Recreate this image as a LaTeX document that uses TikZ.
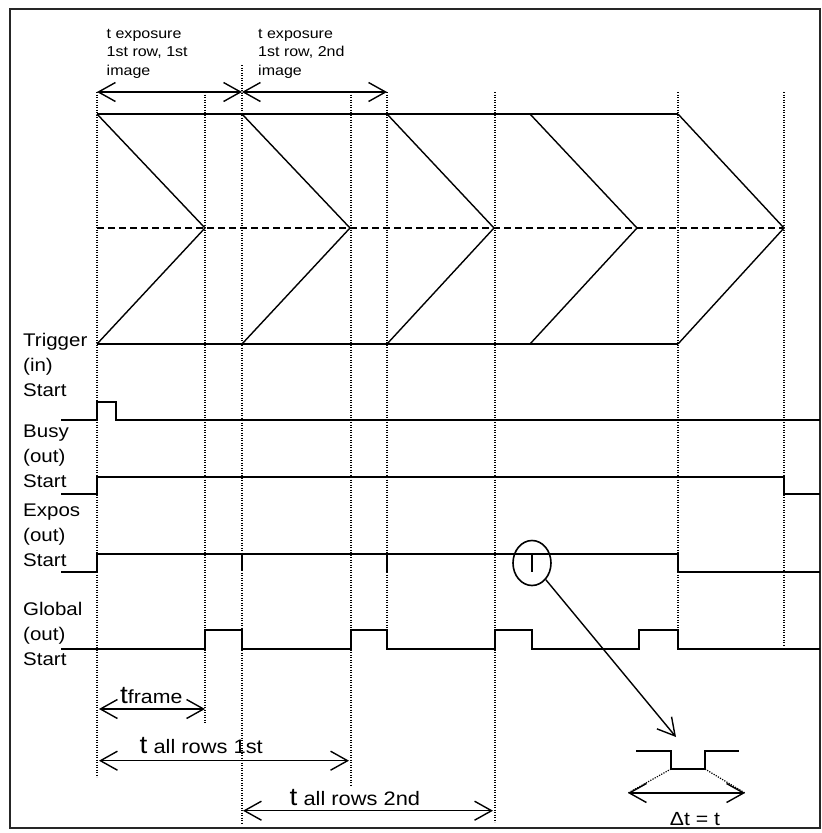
\documentclass[tikz,border=0pt]{standalone}
\usepackage{fontspec}
\setmainfont[FakeStretch=1.12]{Liberation Sans}
\usetikzlibrary{arrows.meta,shapes.geometric}
\begin{document}
\begin{tikzpicture}[x=1pt,y=-1pt,
  sig/.style={line width=1.6pt, line join=miter},
  chev/.style={line width=1.4pt},
  dotline/.style={line width=1.2pt, dash pattern=on 1.2pt off 1.3pt},
  dashline/.style={line width=1.4pt, dash pattern=on 7pt off 4pt},
  barb/.style={line width=1.4pt, {Straight Barb[length=17pt,width=19pt]}-{Straight Barb[length=17pt,width=19pt]}},
  barbend/.style={line width=1.4pt, -{Straight Barb[length=17pt,width=19pt]}},
  lab/.style={font=\fontsize{18.3}{25}\selectfont, anchor=base west, inner sep=0pt},
  toplab/.style={font=\fontsize{14.3}{18}\selectfont, anchor=base west, inner sep=0pt},
  dimlab/.style={anchor=base west, inner sep=0pt},
]
\useasboundingbox (0,0) rectangle (822,833);
% frame
\draw[line width=1.2pt, black!85] (10,9) rectangle (820,828);

% dotted verticals
\draw[dotline] (97,92) -- (97,777);
\draw[dotline] (205,92) -- (205,723);
\draw[dotline] (242,65) -- (242,823);
\draw[dotline] (351,92) -- (351,786);
\draw[dotline] (387,92) -- (387,648);
\draw[dotline] (495,92) -- (495,822);
\draw[dotline] (678,92) -- (678,648);
\draw[dotline] (784,92) -- (784,646);

% chevrons
\draw[chev] (97,114) -- (678,114);
\draw[chev] (97,344) -- (678,344);
\draw[dashline] (97,228) -- (784,228);
\foreach \s/\t in {97/205, 242/350, 387/494, 530/637, 678/784}
  \draw[chev, line join=miter] (\s,114) -- (\t,228) -- (\s,344);

% top dimension arrows
\coordinate (a1) at (97,92);
\coordinate (a2) at (242,92);
\coordinate (a3) at (387,92);
\draw[barb] (a1) -- (a2);
\draw[barb] (a2) -- (a3);

\node[toplab] (t1a) at (106.5,38) {t exposure};
\node[toplab] (t1b) at (106.5,56.5) {1st row, 1st};
\node[toplab] (t1c) at (106.5,75) {image};
\node[toplab] (t2a) at (258,38) {t exposure};
\node[toplab] (t2b) at (258,56.5) {1st row, 2nd};
\node[toplab] (t2c) at (258,75) {image};

% left labels
\node[lab] (l1) at (23,346) {Trigger};
\node[lab] (l2) at (23,371) {(in)};
\node[lab] (l3) at (23,396) {Start};
\node[lab] (l4) at (23,437) {Busy};
\node[lab] (l5) at (23,462) {(out)};
\node[lab] (l6) at (23,487) {Start};
\node[lab] (l7) at (23,516) {Expos};
\node[lab] (l8) at (23,541) {(out)};
\node[lab] (l9) at (23,566) {Start};
\node[lab] (l10) at (23,615) {Global};
\node[lab] (l11) at (23,640) {(out)};
\node[lab] (l12) at (23,665) {Start};

% signals
\draw[sig] (61,420) -- (97,420) -- (97,402) -- (115.7,402) -- (115.7,420) -- (820,420);
\draw[sig] (61,494) -- (97,494) -- (97,477) -- (784,477) -- (784,494) -- (820,494);
\draw[sig] (61,572) -- (97,572) -- (97,554) -- (678,554) -- (678,572) -- (820,572);
\draw[sig] (242,554) -- (242,571);
\draw[sig] (387,554) -- (387,572);
\draw[sig] (532,554) -- (532,572);
\draw[sig] (61,649) -- (205,649) -- (205,630) -- (242,630) -- (242,649) -- (351,649) -- (351,630)
  -- (387,630) -- (387,649) -- (495,649) -- (495,630) -- (532,630) -- (532,649) -- (639,649)
  -- (639,630) -- (678,630) -- (678,649) -- (820,649);

% magnifier
\node[draw, ellipse, line width=1.6pt, minimum width=38pt, minimum height=45pt, inner sep=0pt] (zoomc) at (532,563) {};
\coordinate (ztip) at (676,737);
\draw[barbend] (zoomc) -- (ztip);

% small pulse detail
\draw[sig] (636,751) -- (671,751) -- (671,769) -- (705,769) -- (705,751) -- (739,751);
\coordinate (pl) at (671,769);
\coordinate (pr) at (705,769);
\coordinate (dl) at (628,793);
\coordinate (dr) at (745,793);
\draw[dotline] (pl) -- (dl);
\draw[dotline] (pr) -- (dr);
\draw[barb] (dl) -- (dr);
\node[anchor=base, font=\fontsize{19}{19}\selectfont, inner sep=0pt] (dt) at (695,825) {Δt = t};

% bottom dimension arrows
\coordinate (f1) at (99,709);
\coordinate (f2) at (205,709);
\draw[barb] (f1) -- (f2);
\node[dimlab] (tf) at (120,703) {\fontsize{25}{25}\selectfont t\fontsize{19}{19}\selectfont frame};

\coordinate (r1a) at (99,760.7);
\coordinate (r1b) at (349,760.7);
\draw[barb] (r1a) -- (r1b);
\node[dimlab] (tr1) at (139.5,753) {\fontsize{25}{25}\selectfont t\fontsize{19.5}{19.5}\selectfont{} all rows 1st};

\coordinate (r2a) at (243,810.7);
\coordinate (r2b) at (493,810.7);
\draw[barb] (r2a) -- (r2b);
\node[dimlab] (tr2) at (289.5,805) {\fontsize{25}{25}\selectfont t\fontsize{19.5}{19.5}\selectfont{} all rows 2nd};
\end{tikzpicture}
\end{document}
